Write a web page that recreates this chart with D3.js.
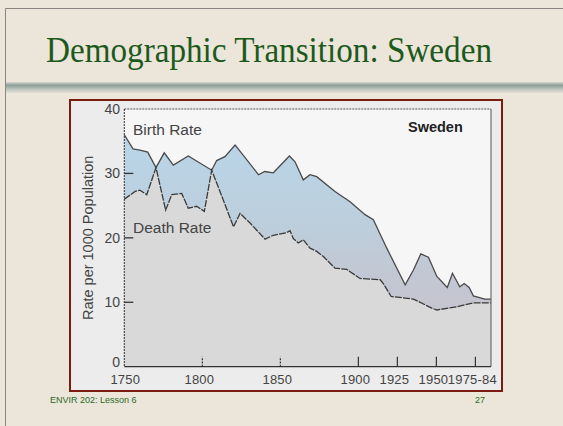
<!DOCTYPE html>
<html>
<head>
<meta charset="utf-8">
<script src="https://cdn.jsdelivr.net/npm/d3@7"></script>
<style>
  body { margin: 0; background: #ece5da; }
  svg { display: block; }
</style>
</head>
<body>
<div id="container"></div>
<script>
// birth rate, per 1000
const birthYears = [1750, 1755.6, 1760, 1765, 1770.3, 1775.6, 1781.4, 1791, 1806, 1809.2, 1814.5, 1821, 1824,
  1836, 1840, 1845.5, 1855.8, 1859.4, 1864.7, 1869, 1873.3, 1885, 1894.7, 1904.3, 1909.6, 1918.2, 1930,
  1935.3, 1940, 1944.9, 1950.3, 1957, 1960.3, 1965, 1967.8, 1971, 1973.7, 1981, 1985]
const birthRate = [36.0, 33.8, 33.6, 33.3, 30.9, 33.2, 31.3, 32.7, 30.5, 32.0, 32.6, 34.4, 33.5,
  29.8, 30.3, 30.1, 32.7, 31.8, 29.0, 29.8, 29.5, 27.2, 25.6, 23.6, 22.8, 18.4, 12.7,
  15.0, 17.5, 17.0, 14.0, 12.3, 14.5, 12.4, 12.9, 12.3, 11.0, 10.5, 10.5]

// death rate, per 1000
const deathYears = [1750, 1756.9, 1760, 1764.4, 1770.3, 1776.5, 1780.4, 1786.8, 1791, 1796.4, 1801.3, 1806,
  1811, 1820, 1824.2, 1830.6, 1840.2, 1845.5, 1854, 1856.2, 1858.3, 1861.5, 1864.7, 1869, 1873.3, 1877.6,
  1885, 1892.6, 1901, 1914, 1916, 1921, 1935.3, 1947, 1950.3, 1963, 1973.7, 1985]
const deathRate = [26.0, 27.2, 27.4, 26.7, 30.9, 24.3, 26.7, 26.9, 24.6, 24.9, 24.1, 30.5,
  27.4, 21.7, 23.8, 22.3, 19.8, 20.4, 20.8, 21.1, 19.9, 19.2, 19.7, 18.4, 17.9, 17.1,
  15.3, 15.1, 13.7, 13.5, 12.9, 10.9, 10.5, 9.1, 8.8, 9.3, 9.9, 9.9]

const xTicks = [1750, 1800, 1850, 1900, 1925, 1950, 1975]
const xTickLabels = ["1750", "1800", "1850", "1900", "1925", "1950", "1975-84"]
const yTicks = [0, 10, 20, 30, 40]

const W = 563, H = 426

let svg = d3.select("#container").append("svg")
  .attr("width", W).attr("height", H)

let defs = svg.append("defs")
let grad = defs.append("linearGradient").attr("id", "blue")
  .attr("gradientUnits", "userSpaceOnUse")
  .attr("x1", 0).attr("x2", 0).attr("y1", 130).attr("y2", 300)
grad.append("stop").attr("offset", 0).attr("stop-color", "#b8d6ea")
grad.append("stop").attr("offset", 0.5).attr("stop-color", "#bccfdd")
grad.append("stop").attr("offset", 1).attr("stop-color", "#c4c5cf")

let band = defs.append("linearGradient").attr("id", "band")
  .attr("x1", 0).attr("x2", 0).attr("y1", 0).attr("y2", 1)
band.append("stop").attr("offset", 0).attr("stop-color", "#d6d8d0")
band.append("stop").attr("offset", 0.3).attr("stop-color", "#8e9f97")
band.append("stop").attr("offset", 0.6).attr("stop-color", "#b5c0b8")
band.append("stop").attr("offset", 1).attr("stop-color", "#e4e0d6")

// slide
svg.append("rect").attr("width", W).attr("height", H).attr("fill", "#ece5da")
svg.append("path").attr("d", "M5.5," + H + "V8.5H" + W)
  .attr("fill", "none").attr("stroke", "#8a8580").attr("stroke-width", 1)

svg.append("text")
  .attr("x", 46).attr("y", 62)
  .attr("textLength", 446).attr("lengthAdjust", "spacingAndGlyphs")
  .style("font-family", "Liberation Serif")
  .style("font-size", "36px")
  .style("fill", "#1c5a1c")
  .text("Demographic Transition: Sweden")

svg.append("rect").attr("x", 6).attr("y", 82).attr("width", W - 6).attr("height", 11)
  .attr("fill", "url(#band)")

// chart panel
svg.append("rect").attr("x", 70).attr("y", 100).attr("width", 432).attr("height", 291)
  .attr("fill", "#ececec").attr("stroke", "#7a1c12").attr("stroke-width", 2)

const xScale = d3.scaleLinear().domain([1750, 1985]).range([124.3, 491])
const yScale = d3.scaleLinear().domain([0, 40]).range([366.7, 109])

svg.append("rect")
  .attr("x", xScale(1750)).attr("y", yScale(40))
  .attr("width", xScale(1985) - xScale(1750)).attr("height", yScale(0) - yScale(40))
  .attr("fill", "#f6f6f6")

let area = d3.area()
  .x(d => xScale(d[0]))
  .y0(yScale(0))
  .y1(d => yScale(d[1]))

let line = d3.line()
  .x(d => xScale(d[0]))
  .y(d => yScale(d[1]))

let birth = birthYears.map((y, i) => [y, birthRate[i]])
let death = deathYears.map((y, i) => [y, deathRate[i]])

svg.append("path").attr("d", area(birth)).attr("fill", "url(#blue)")
svg.append("path").attr("d", area(death)).attr("fill", "#d9d9d9")

svg.append("path").attr("d", line(birth))
  .attr("fill", "none").attr("stroke", "#4a4a4a").attr("stroke-width", 1.3)
svg.append("path").attr("d", line(death))
  .attr("fill", "none").attr("stroke", "#3a3a3a").attr("stroke-width", 1.3)
  .attr("stroke-dasharray", "7,1.2")

// frame of plot
svg.append("line")
  .attr("x1", xScale(1750)).attr("x2", xScale(1985))
  .attr("y1", yScale(40)).attr("y2", yScale(40))
  .attr("stroke", "#555").attr("stroke-dasharray", "2,1")
svg.append("line")
  .attr("x1", xScale(1750)).attr("x2", xScale(1750))
  .attr("y1", yScale(40)).attr("y2", yScale(0))
  .attr("stroke", "#333").attr("stroke-dasharray", "2,1")
svg.append("line")
  .attr("x1", xScale(1985)).attr("x2", xScale(1985))
  .attr("y1", yScale(40)).attr("y2", yScale(0))
  .attr("stroke", "#555")
svg.append("line")
  .attr("x1", xScale(1750)).attr("x2", xScale(1985))
  .attr("y1", yScale(0)).attr("y2", yScale(0))
  .attr("stroke", "#333").attr("stroke-width", 1.2)

// y axis
let yAxis = svg.append("g")
yAxis.selectAll("line.tick").data(yTicks.filter(d => d > 0 && d < 40)).enter()
  .append("line")
  .attr("x1", xScale(1750)).attr("x2", xScale(1750) + 9)
  .attr("y1", d => yScale(d)).attr("y2", d => yScale(d))
  .attr("stroke", "#333").attr("stroke-width", 1.3)
yAxis.selectAll("text").data(yTicks).enter()
  .append("text")
  .attr("x", 120)
  .attr("y", d => yScale(d) + (d == 0 ? 0 : 5))
  .attr("text-anchor", "end")
  .style("font-family", "Liberation Sans")
  .style("font-size", "14px")
  .style("fill", "#444")
  .text(d => d)

svg.append("text")
  .attr("transform", "translate(93," + yScale(20) + ") rotate(-90)")
  .attr("text-anchor", "middle")
  .style("font-family", "Liberation Sans")
  .style("font-size", "14.5px")
  .style("fill", "#444")
  .text("Rate per 1000 Population")

// x axis
let xAxis = svg.append("g")
xAxis.selectAll("line").data(xTicks.filter(d => d > 1750)).enter()
  .append("line")
  .attr("x1", d => xScale(d)).attr("x2", d => xScale(d))
  .attr("y1", yScale(0)).attr("y2", yScale(0) - 10)
  .attr("stroke", "#333").attr("stroke-width", 1.2)
  .attr("stroke-dasharray", d => d < 1900 ? "2,1.2" : null)
xAxis.selectAll("text").data(xTicks).enter()
  .append("text")
  .attr("x", (d, i) => xScale(d) + (i == 0 ? 1 : -3))
  .attr("y", 384)
  .attr("text-anchor", "middle")
  .style("font-family", "Liberation Sans")
  .style("font-size", "13px")
  .style("letter-spacing", "0.2px")
  .style("fill", "#444")
  .text((d, i) => xTickLabels[i])

// labels in plot
svg.append("text").attr("x", 133).attr("y", 135)
  .style("font-family", "Liberation Sans").style("font-size", "15.5px").style("fill", "#444")
  .text("Birth Rate")
svg.append("text").attr("x", 133).attr("y", 233)
  .style("font-family", "Liberation Sans").style("font-size", "15.5px").style("fill", "#444")
  .text("Death Rate")
svg.append("text").attr("x", 408).attr("y", 132)
  .style("font-family", "Liberation Sans").style("font-size", "14.5px").style("font-weight", "bold")
  .style("fill", "#222")
  .text("Sweden")

// footer
svg.append("text").attr("x", 50).attr("y", 403)
  .style("font-family", "Liberation Sans").style("font-size", "9px").style("fill", "#2a6a2a")
  .text("ENVIR 202: Lesson 6")
svg.append("text").attr("x", 475).attr("y", 403)
  .style("font-family", "Liberation Sans").style("font-size", "9px").style("fill", "#2a6a2a")
  .text("27")
</script>
</body>
</html>
